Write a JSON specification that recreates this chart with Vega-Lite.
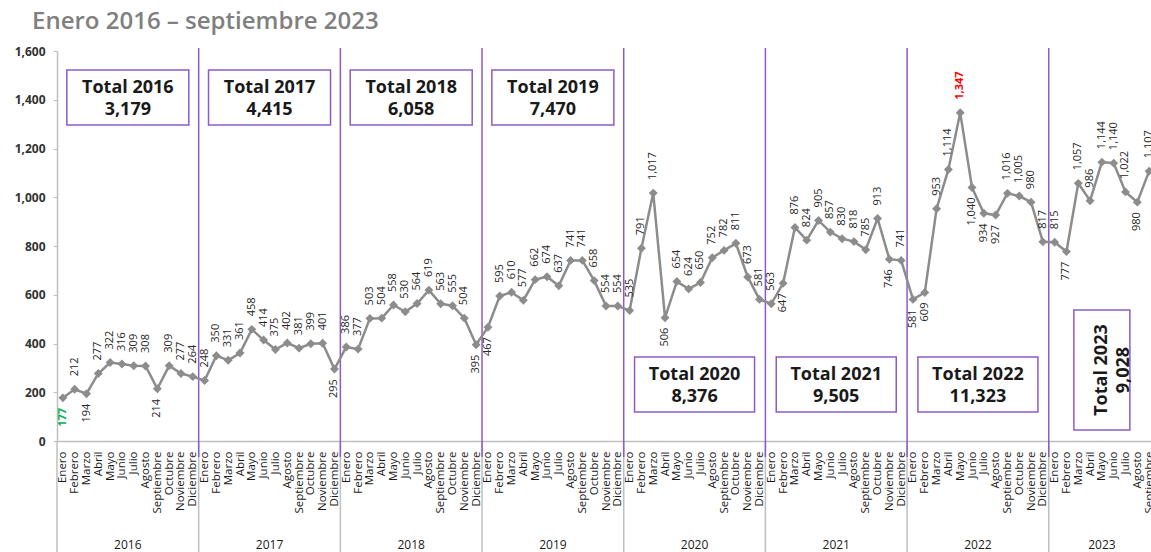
{
  "$schema": "https://vega.github.io/schema/vega-lite/v6.json",
  "autosize": {"type": "none"},
  "padding": {"left": 57, "top": 51, "right": 0, "bottom": 111},
  "width": 1094,
  "height": 390,
  "title": {
    "text": "Enero 2016 – septiembre 2023",
    "anchor": "start",
    "frame": "group",
    "dx": -25,
    "offset": 11,
    "font": "Open Sans",
    "fontSize": 24,
    "fontWeight": 600,
    "color": "#808080"
  },
  "config": {
    "view": {"stroke": null},
    "font": "Open Sans",
    "scale": {"continuousPadding": 0}
  },
  "data": {
    "values": [
      {"i": 0, "anio": 2016, "mes": "Enero", "valor": 177},
      {"i": 1, "anio": 2016, "mes": "Febrero", "valor": 212},
      {"i": 2, "anio": 2016, "mes": "Marzo", "valor": 194},
      {"i": 3, "anio": 2016, "mes": "Abril", "valor": 277},
      {"i": 4, "anio": 2016, "mes": "Mayo", "valor": 322},
      {"i": 5, "anio": 2016, "mes": "Junio", "valor": 316},
      {"i": 6, "anio": 2016, "mes": "Julio", "valor": 309},
      {"i": 7, "anio": 2016, "mes": "Agosto", "valor": 308},
      {"i": 8, "anio": 2016, "mes": "Septiembre", "valor": 214},
      {"i": 9, "anio": 2016, "mes": "Octubre", "valor": 309},
      {"i": 10, "anio": 2016, "mes": "Noviembre", "valor": 277},
      {"i": 11, "anio": 2016, "mes": "Diciembre", "valor": 264},
      {"i": 12, "anio": 2017, "mes": "Enero", "valor": 248},
      {"i": 13, "anio": 2017, "mes": "Febrero", "valor": 350},
      {"i": 14, "anio": 2017, "mes": "Marzo", "valor": 331},
      {"i": 15, "anio": 2017, "mes": "Abril", "valor": 361},
      {"i": 16, "anio": 2017, "mes": "Mayo", "valor": 458},
      {"i": 17, "anio": 2017, "mes": "Junio", "valor": 414},
      {"i": 18, "anio": 2017, "mes": "Julio", "valor": 375},
      {"i": 19, "anio": 2017, "mes": "Agosto", "valor": 402},
      {"i": 20, "anio": 2017, "mes": "Septiembre", "valor": 381},
      {"i": 21, "anio": 2017, "mes": "Octubre", "valor": 399},
      {"i": 22, "anio": 2017, "mes": "Noviembre", "valor": 401},
      {"i": 23, "anio": 2017, "mes": "Diciembre", "valor": 295},
      {"i": 24, "anio": 2018, "mes": "Enero", "valor": 386},
      {"i": 25, "anio": 2018, "mes": "Febrero", "valor": 377},
      {"i": 26, "anio": 2018, "mes": "Marzo", "valor": 503},
      {"i": 27, "anio": 2018, "mes": "Abril", "valor": 504},
      {"i": 28, "anio": 2018, "mes": "Mayo", "valor": 558},
      {"i": 29, "anio": 2018, "mes": "Junio", "valor": 530},
      {"i": 30, "anio": 2018, "mes": "Julio", "valor": 564},
      {"i": 31, "anio": 2018, "mes": "Agosto", "valor": 619},
      {"i": 32, "anio": 2018, "mes": "Septiembre", "valor": 563},
      {"i": 33, "anio": 2018, "mes": "Octubre", "valor": 555},
      {"i": 34, "anio": 2018, "mes": "Noviembre", "valor": 504},
      {"i": 35, "anio": 2018, "mes": "Diciembre", "valor": 395},
      {"i": 36, "anio": 2019, "mes": "Enero", "valor": 467},
      {"i": 37, "anio": 2019, "mes": "Febrero", "valor": 595},
      {"i": 38, "anio": 2019, "mes": "Marzo", "valor": 610},
      {"i": 39, "anio": 2019, "mes": "Abril", "valor": 577},
      {"i": 40, "anio": 2019, "mes": "Mayo", "valor": 662},
      {"i": 41, "anio": 2019, "mes": "Junio", "valor": 674},
      {"i": 42, "anio": 2019, "mes": "Julio", "valor": 637},
      {"i": 43, "anio": 2019, "mes": "Agosto", "valor": 741},
      {"i": 44, "anio": 2019, "mes": "Septiembre", "valor": 741},
      {"i": 45, "anio": 2019, "mes": "Octubre", "valor": 658},
      {"i": 46, "anio": 2019, "mes": "Noviembre", "valor": 554},
      {"i": 47, "anio": 2019, "mes": "Diciembre", "valor": 554},
      {"i": 48, "anio": 2020, "mes": "Enero", "valor": 535},
      {"i": 49, "anio": 2020, "mes": "Febrero", "valor": 791},
      {"i": 50, "anio": 2020, "mes": "Marzo", "valor": 1017},
      {"i": 51, "anio": 2020, "mes": "Abril", "valor": 506},
      {"i": 52, "anio": 2020, "mes": "Mayo", "valor": 654},
      {"i": 53, "anio": 2020, "mes": "Junio", "valor": 624},
      {"i": 54, "anio": 2020, "mes": "Julio", "valor": 650},
      {"i": 55, "anio": 2020, "mes": "Agosto", "valor": 752},
      {"i": 56, "anio": 2020, "mes": "Septiembre", "valor": 782},
      {"i": 57, "anio": 2020, "mes": "Octubre", "valor": 811},
      {"i": 58, "anio": 2020, "mes": "Noviembre", "valor": 673},
      {"i": 59, "anio": 2020, "mes": "Diciembre", "valor": 581},
      {"i": 60, "anio": 2021, "mes": "Enero", "valor": 563},
      {"i": 61, "anio": 2021, "mes": "Febrero", "valor": 647},
      {"i": 62, "anio": 2021, "mes": "Marzo", "valor": 876},
      {"i": 63, "anio": 2021, "mes": "Abril", "valor": 824},
      {"i": 64, "anio": 2021, "mes": "Mayo", "valor": 905},
      {"i": 65, "anio": 2021, "mes": "Junio", "valor": 857},
      {"i": 66, "anio": 2021, "mes": "Julio", "valor": 830},
      {"i": 67, "anio": 2021, "mes": "Agosto", "valor": 818},
      {"i": 68, "anio": 2021, "mes": "Septiembre", "valor": 785},
      {"i": 69, "anio": 2021, "mes": "Octubre", "valor": 913},
      {"i": 70, "anio": 2021, "mes": "Noviembre", "valor": 746},
      {"i": 71, "anio": 2021, "mes": "Diciembre", "valor": 741},
      {"i": 72, "anio": 2022, "mes": "Enero", "valor": 581},
      {"i": 73, "anio": 2022, "mes": "Febrero", "valor": 609},
      {"i": 74, "anio": 2022, "mes": "Marzo", "valor": 953},
      {"i": 75, "anio": 2022, "mes": "Abril", "valor": 1114},
      {"i": 76, "anio": 2022, "mes": "Mayo", "valor": 1347},
      {"i": 77, "anio": 2022, "mes": "Junio", "valor": 1040},
      {"i": 78, "anio": 2022, "mes": "Julio", "valor": 934},
      {"i": 79, "anio": 2022, "mes": "Agosto", "valor": 927},
      {"i": 80, "anio": 2022, "mes": "Septiembre", "valor": 1016},
      {"i": 81, "anio": 2022, "mes": "Octubre", "valor": 1005},
      {"i": 82, "anio": 2022, "mes": "Noviembre", "valor": 980},
      {"i": 83, "anio": 2022, "mes": "Diciembre", "valor": 817},
      {"i": 84, "anio": 2023, "mes": "Enero", "valor": 815},
      {"i": 85, "anio": 2023, "mes": "Febrero", "valor": 777},
      {"i": 86, "anio": 2023, "mes": "Marzo", "valor": 1057},
      {"i": 87, "anio": 2023, "mes": "Abril", "valor": 986},
      {"i": 88, "anio": 2023, "mes": "Mayo", "valor": 1144},
      {"i": 89, "anio": 2023, "mes": "Junio", "valor": 1140},
      {"i": 90, "anio": 2023, "mes": "Julio", "valor": 1022},
      {"i": 91, "anio": 2023, "mes": "Agosto", "valor": 980},
      {"i": 92, "anio": 2023, "mes": "Septiembre", "valor": 1107}
    ]
  },
  "layer": [
    {
      "transform": [
        {"aggregate": [{"op": "min", "field": "i", "as": "imin"}], "groupby": ["anio"]},
        {"calculate": "datum.imin - 0.5", "as": "b"}
      ],
      "mark": {"type": "rule", "color": "#bfbfbf", "strokeWidth": 1.5, "clip": false},
      "encoding": {
        "x": {"field": "b", "type": "quantitative", "axis": {"title": null}},
        "y": {"datum": 0, "type": "quantitative", "axis": {"title": null}},
        "y2": {"datum": -470}
      }
    },
    {
      "transform": [
        {"aggregate": [{"op": "min", "field": "i", "as": "imin"}], "groupby": ["anio"]},
        {"filter": "datum.anio > 2016"},
        {"calculate": "datum.imin - 0.5", "as": "b"}
      ],
      "mark": {"type": "rule", "color": "#8b5cc9", "strokeWidth": 1.5, "clip": false},
      "encoding": {
        "x": {"field": "b", "type": "quantitative", "axis": {"title": null}},
        "y": {"datum": 1612, "type": "quantitative", "axis": {"title": null}},
        "y2": {"datum": -66}
      }
    },
    {
      "mark": {"type": "line", "color": "#8c8c8c", "strokeWidth": 2.5},
      "encoding": {
        "x": {
          "field": "i", "type": "quantitative",
          "scale": {"domain": [-0.5, 92.16], "nice": false, "zero": false, "padding": 0},
          "axis": {
            "title": null,
            "tickCount": 93,
            "tickMinStep": 1,
            "ticks": false,
            "grid": false,
            "domainColor": "#bfbfbf",
            "domainWidth": 1.5,
            "labelAngle": 270,
            "labelAlign": "right",
            "labelBaseline": "middle",
            "labelPadding": 10,
            "labelFontSize": 11.5,
            "labelColor": "#1a1a1a",
            "labelOverlap": false,
            "labelBound": false,
            "labelFlush": false,
            "labelExpr": "['Enero','Febrero','Marzo','Abril','Mayo','Junio','Julio','Agosto','Septiembre','Octubre','Noviembre','Diciembre'][datum.value % 12]"
          }
        },
        "y": {
          "field": "valor", "type": "quantitative",
          "scale": {"domain": [0, 1600], "nice": false, "zero": true},
          "axis": {
            "title": null,
            "values": [0, 200, 400, 600, 800, 1000, 1200, 1400, 1600],
            "labelExpr": "format(datum.value, ',')",
            "grid": false,
            "domainColor": "#bfbfbf",
            "domainWidth": 1.5,
            "tickColor": "#bfbfbf",
            "tickSize": 4,
            "labelPadding": 8,
            "labelFontSize": 12,
            "labelFontWeight": "bold",
            "labelColor": "#333333"
          }
        }
      }
    },
    {
      "mark": {"type": "point", "shape": "diamond", "filled": true, "color": "#8c8c8c", "size": 80, "opacity": 1},
      "encoding": {
        "x": {"field": "i", "type": "quantitative", "axis": {"title": null}},
        "y": {"field": "valor", "type": "quantitative", "axis": {"title": null}}
      }
    },
    {
      "transform": [
        {"joinaggregate": [{"op": "max", "field": "valor", "as": "vmax"}]},
        {"filter": {"not": {"field": "i", "oneOf": [0, 2, 8, 23, 35, 36, 51, 61, 70, 72, 73, 77, 78, 79, 85, 91]}}}
      ],
      "mark": {"type": "text", "angle": 270, "align": "left", "baseline": "middle", "dx": 13, "fontSize": 11, "clip": false},
      "encoding": {
        "x": {"field": "i", "type": "quantitative", "axis": {"title": null}},
        "y": {"field": "valor", "type": "quantitative", "axis": {"title": null}},
        "text": {"field": "valor", "type": "quantitative", "format": ","},
        "color": {
          "condition": {"test": "datum.valor == datum.vmax", "value": "#ff0000"},
          "value": "#262626"
        },
        "opacity": {
          "condition": {"test": "datum.valor == datum.vmax", "value": 0},
          "value": 1
        }
      }
    },
    {
      "transform": [
        {"joinaggregate": [{"op": "max", "field": "valor", "as": "vmax"}]},
        {"filter": "datum.valor == datum.vmax"}
      ],
      "mark": {"type": "text", "angle": 270, "align": "left", "baseline": "middle", "dx": 13, "fontSize": 11, "fontWeight": "bold", "color": "#ff0000", "clip": false},
      "encoding": {
        "x": {"field": "i", "type": "quantitative", "axis": {"title": null}},
        "y": {"field": "valor", "type": "quantitative", "axis": {"title": null}},
        "text": {"field": "valor", "type": "quantitative", "format": ","}
      }
    },
    {
      "transform": [
        {"joinaggregate": [{"op": "min", "field": "valor", "as": "vmin"}]},
        {"filter": {"field": "i", "oneOf": [0, 2, 8, 23, 35, 36, 51, 61, 70, 72, 73, 77, 78, 79, 85, 91]}},
        {"filter": "datum.valor != datum.vmin"}
      ],
      "mark": {"type": "text", "angle": 270, "align": "right", "baseline": "middle", "dx": -10, "fontSize": 11, "color": "#262626", "clip": false},
      "encoding": {
        "x": {"field": "i", "type": "quantitative", "axis": {"title": null}},
        "y": {"field": "valor", "type": "quantitative", "axis": {"title": null}},
        "text": {"field": "valor", "type": "quantitative", "format": ","}
      }
    },
    {
      "transform": [
        {"joinaggregate": [{"op": "min", "field": "valor", "as": "vmin"}]},
        {"filter": "datum.valor == datum.vmin"}
      ],
      "mark": {"type": "text", "angle": 270, "align": "right", "baseline": "middle", "dx": -10, "fontSize": 11, "fontWeight": "bold", "color": "#00b050", "clip": false},
      "encoding": {
        "x": {"field": "i", "type": "quantitative", "axis": {"title": null}},
        "y": {"field": "valor", "type": "quantitative", "axis": {"title": null}},
        "text": {"field": "valor", "type": "quantitative", "format": ","}
      }
    },
    {
      "transform": [
        {"aggregate": [{"op": "mean", "field": "i", "as": "cx"}], "groupby": ["anio"]}
      ],
      "mark": {"type": "text", "fontSize": 12, "color": "#1a1a1a", "baseline": "middle", "align": "center", "clip": false},
      "encoding": {
        "x": {"field": "cx", "type": "quantitative", "axis": {"title": null}},
        "y": {"datum": -428, "type": "quantitative", "axis": {"title": null}},
        "text": {"field": "anio", "type": "nominal"}
      }
    },
    {
      "transform": [
        {"aggregate": [{"op": "mean", "field": "i", "as": "cx"}, {"op": "sum", "field": "valor", "as": "total"}], "groupby": ["anio"]},
        {"filter": "datum.anio <= 2019"}
      ],
      "mark": {"type": "bar", "width": 122, "fill": "#ffffff", "stroke": "#8b5cc9", "strokeWidth": 1.5},
      "encoding": {
        "x": {"field": "cx", "type": "quantitative", "axis": {"title": null}},
        "y": {"datum": 1522, "type": "quantitative", "axis": {"title": null}},
        "y2": {"datum": 1296}
      }
    },
    {
      "transform": [
        {"aggregate": [{"op": "mean", "field": "i", "as": "cx"}, {"op": "sum", "field": "valor", "as": "total"}], "groupby": ["anio"]},
        {"filter": "datum.anio <= 2019"},
        {"calculate": "['Total ' + datum.anio, format(datum.total, ',')]", "as": "etiqueta"}
      ],
      "mark": {"type": "text", "fontSize": 18, "fontWeight": "bold", "lineHeight": 22, "color": "#1a1a1a", "baseline": "middle", "align": "center"},
      "encoding": {
        "x": {"field": "cx", "type": "quantitative", "axis": {"title": null}},
        "y": {"datum": 1448, "type": "quantitative", "axis": {"title": null}},
        "text": {"field": "etiqueta"}
      }
    },
    {
      "transform": [
        {"aggregate": [{"op": "mean", "field": "i", "as": "cx"}, {"op": "sum", "field": "valor", "as": "total"}], "groupby": ["anio"]},
        {"filter": "datum.anio >= 2020 && datum.anio <= 2022"}
      ],
      "mark": {"type": "bar", "width": 120, "fill": "#ffffff", "stroke": "#8b5cc9", "strokeWidth": 1.5},
      "encoding": {
        "x": {"field": "cx", "type": "quantitative", "axis": {"title": null}},
        "y": {"datum": 345, "type": "quantitative", "axis": {"title": null}},
        "y2": {"datum": 119}
      }
    },
    {
      "transform": [
        {"aggregate": [{"op": "mean", "field": "i", "as": "cx"}, {"op": "sum", "field": "valor", "as": "total"}], "groupby": ["anio"]},
        {"filter": "datum.anio >= 2020 && datum.anio <= 2022"},
        {"calculate": "['Total ' + datum.anio, format(datum.total, ',')]", "as": "etiqueta"}
      ],
      "mark": {"type": "text", "fontSize": 18, "fontWeight": "bold", "lineHeight": 22, "color": "#1a1a1a", "baseline": "middle", "align": "center"},
      "encoding": {
        "x": {"field": "cx", "type": "quantitative", "axis": {"title": null}},
        "y": {"datum": 271, "type": "quantitative", "axis": {"title": null}},
        "text": {"field": "etiqueta"}
      }
    },
    {
      "transform": [
        {"aggregate": [{"op": "mean", "field": "i", "as": "cx"}, {"op": "sum", "field": "valor", "as": "total"}], "groupby": ["anio"]},
        {"filter": "datum.anio == 2023"}
      ],
      "mark": {"type": "bar", "width": 56, "fill": "#ffffff", "stroke": "#8b5cc9", "strokeWidth": 1.5},
      "encoding": {
        "x": {"field": "cx", "type": "quantitative", "axis": {"title": null}},
        "y": {"datum": 537, "type": "quantitative", "axis": {"title": null}},
        "y2": {"datum": 45}
      }
    },
    {
      "transform": [
        {"aggregate": [{"op": "mean", "field": "i", "as": "cx"}, {"op": "sum", "field": "valor", "as": "total"}], "groupby": ["anio"]},
        {"filter": "datum.anio == 2023"},
        {"calculate": "['Total ' + datum.anio, format(datum.total, ',')]", "as": "etiqueta"}
      ],
      "mark": {"type": "text", "angle": 270, "fontSize": 18, "fontWeight": "bold", "lineHeight": 22, "color": "#1a1a1a", "baseline": "middle", "align": "center"},
      "encoding": {
        "x": {"field": "cx", "type": "quantitative", "axis": {"title": null}},
        "y": {"datum": 291, "type": "quantitative", "axis": {"title": null}},
        "text": {"field": "etiqueta"}
      }
    }
  ]
}
